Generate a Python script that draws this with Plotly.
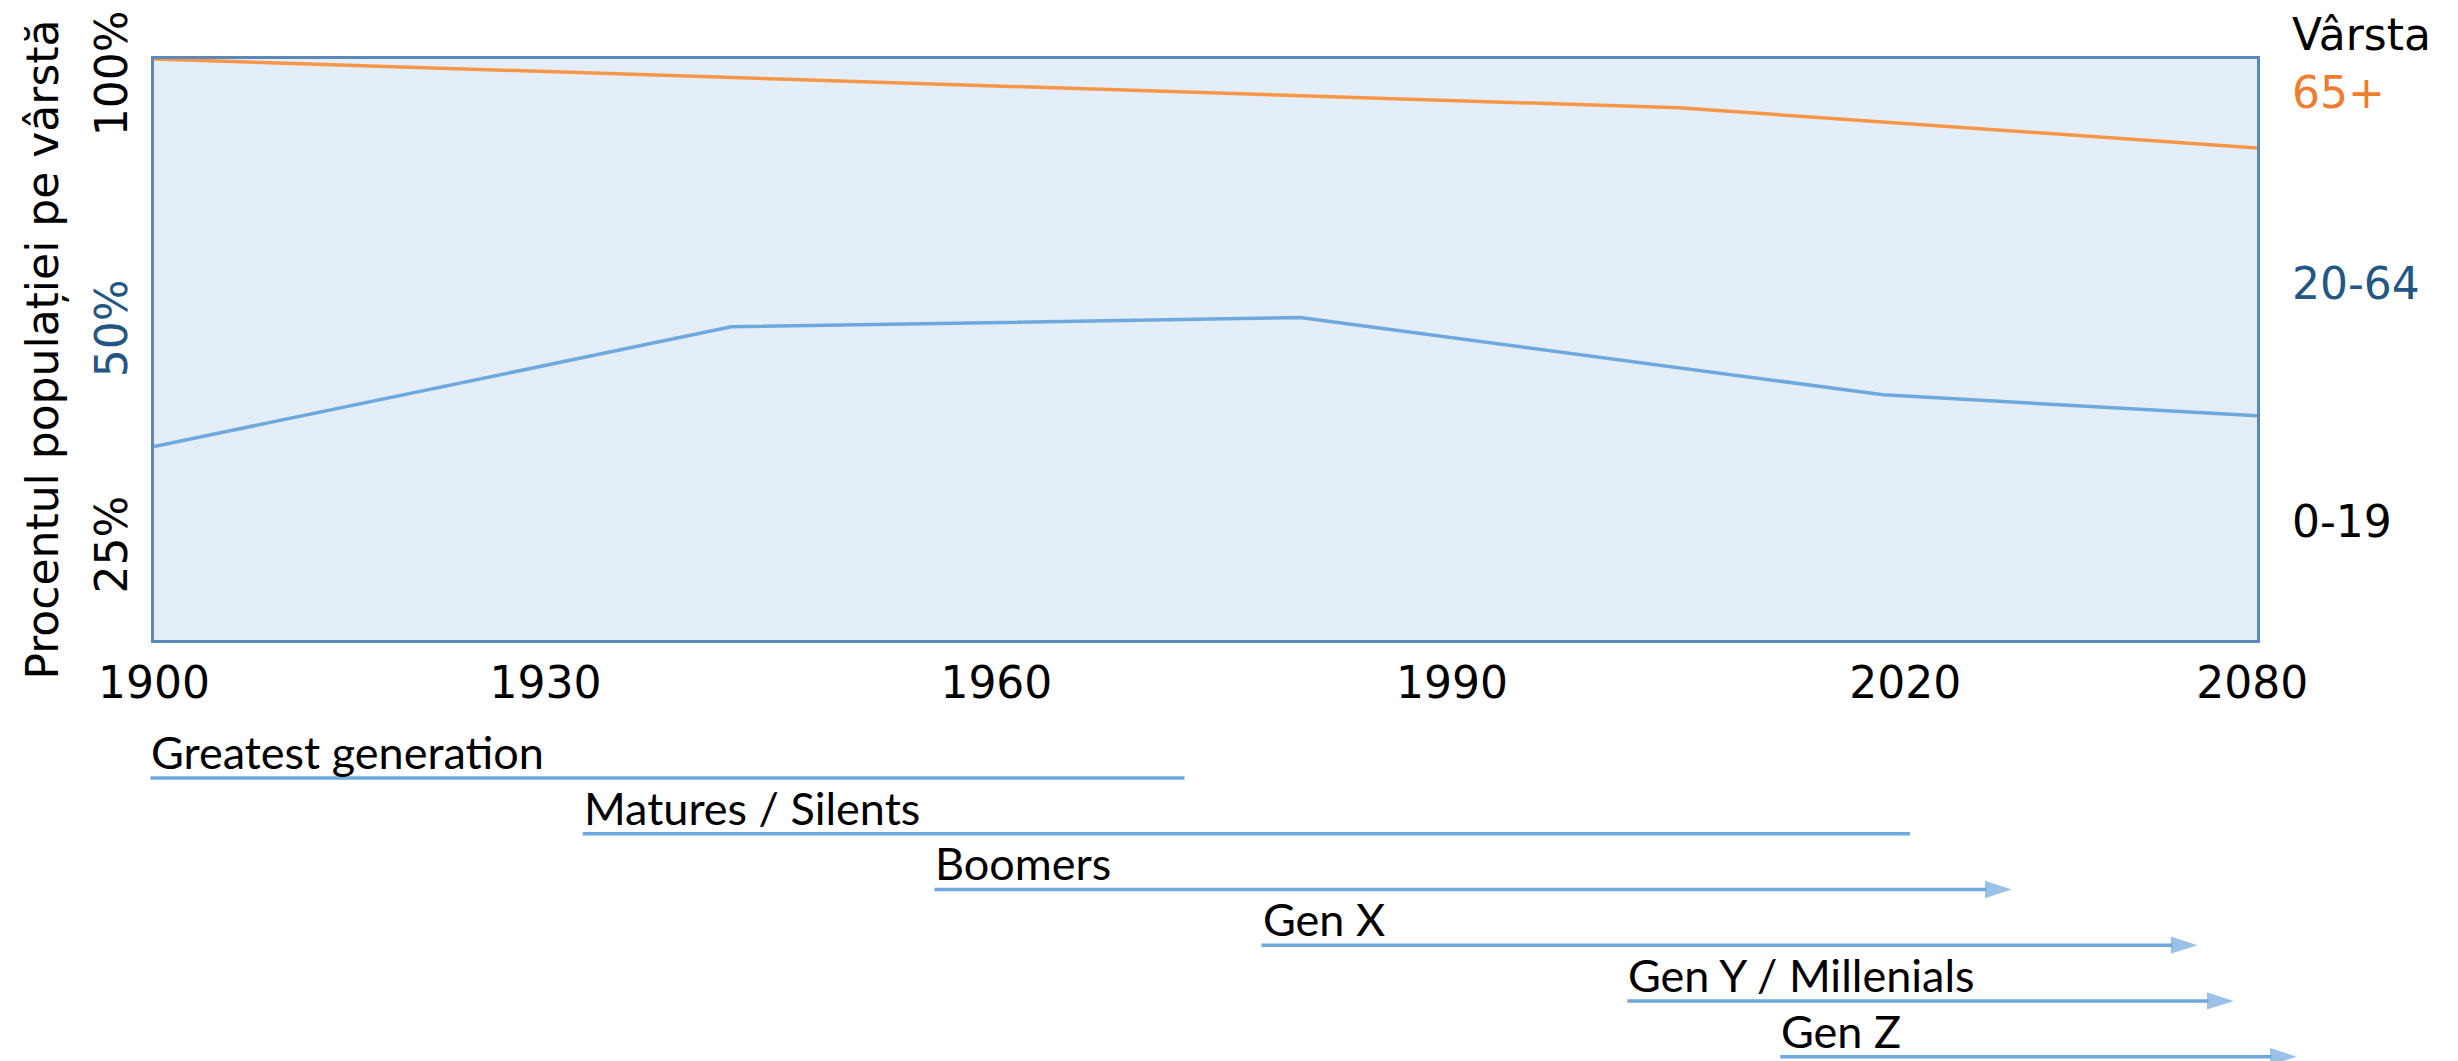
import plotly.graph_objects as go

# ---------------- data ----------------
years_65 = [1900, 2030.5, 2080]                      # upper boundary of the 20-64 band (start of 65+)
boundary_65 = [100, 91.6, 84.7]

years_0_19 = [1900, 1949.4, 1998.1, 2048.0, 2080]   # upper boundary of the 0-19 band
boundary_0_19 = [33.3, 53.9, 55.5, 42.2, 38.6]

x_tick_labels = ["1900", "1930", "1960", "1990", "2020", "2080"]
x_tick_vals = [1900, 1933.5, 1972.1, 2011.1, 2049.9, 2079.6]

y_tick_labels = ["25%", "50%", "100%"]
y_tick_vals = [15.3, 52.5, 96.4]

age_labels = ["Vârsta", "65+", "20-64", "0-19"]

generations = ["Greatest generation", "Matures / Silents", "Boomers",
               "Gen X", "Gen Y / Millenials", "Gen Z"]
gen_start = [1899.7, 1936.7, 1966.8, 1994.8, 2026.1, 2039.2]
gen_end = [1988.2, 2050.3, 2059.0, 2074.9, 2078.0, 2083.4]
gen_arrow = [False, False, True, True, True, True]

# ---------------- styles ----------------
W, H = 2458, 1061
OFF = 8            # page body margin of the browser
ML, MR = 2, 10
ORANGE = "#F79646"
LIGHTBLUE = "#6FA8DC"
DARKBLUE = "#245684"
FRAME = "#5B89B8"
FILL = "#E4EEF8"
TICKFONT = "DejaVu Sans"
GENFONT = "Lato"

PW = W - ML - MR


def px_x(p):
    return (p - OFF - ML) / PW


def px_y(p):
    return (H - (p - OFF)) / H


# main plot frame in screen pixels
FL, FR, FT, FB = 154, 2257, 59, 640
X0, X1 = 1900, 2080
yr_per_px = (X1 - X0) / (FR - FL)

# timeline rows (screen pixels)
ROW0, ROWSTEP = 778, 55.74
y2_dom_top = 0.30


def row_of(p):
    return (p - ROW0) / ROWSTEP


fig = go.Figure()

# frame fill of the main plot only
fig.add_shape(type="rect", xref="x domain", yref="y domain", x0=0, x1=1, y0=0, y1=1,
              fillcolor=FILL, line=dict(width=0), layer="below")

fig.add_trace(go.Scatter(x=years_65, y=boundary_65, mode="lines",
                         line=dict(color=ORANGE, width=3.5), showlegend=False,
                         hoverinfo="skip"))
fig.add_trace(go.Scatter(x=years_0_19, y=boundary_0_19, mode="lines",
                         line=dict(color=LIGHTBLUE, width=3.5), showlegend=False,
                         hoverinfo="skip"))

annotations = []
for i, (name, s, e, arr) in enumerate(zip(generations, gen_start, gen_end, gen_arrow)):
    fig.add_trace(go.Scatter(
        x=[s, e], y=[i, i], xaxis="x2", yaxis="y2",
        mode="lines+markers" if arr else "lines",
        line=dict(color=LIGHTBLUE, width=3.5),
        marker=dict(symbol="arrow", size=[0, 28], angleref="previous",
                    color=LIGHTBLUE, line=dict(width=0)),
        cliponaxis=False, showlegend=False, hoverinfo="skip"))
    annotations.append(dict(
        x=s, y=i, xref="x2", yref="y2", text=name, showarrow=False,
        xanchor="left", yanchor="bottom", yshift=-2, borderpad=0,
        font=dict(family=GENFONT, size=45, color="black")))

# right-hand age labels
age_colors = ["black", "#ED7D31", DARKBLUE, "black"]
age_py = [35, 92, 283, 521]
for lab, col, py in zip(age_labels, age_colors, age_py):
    annotations.append(dict(
        x=px_x(2290), y=px_y(py), xref="paper", yref="paper", text=lab,
        showarrow=False, xanchor="left", yanchor="middle",
        font=dict(family=TICKFONT, size=44, color=col)))

y_tick_text = [
    t if t != "50%" else f"<span style='color:{DARKBLUE}'>{t}</span>"
    for t in y_tick_labels
]

x2_left_px = OFF + ML
x2_right_px = OFF + W - MR
y2_bottom_px = OFF + H
y2_top_px = OFF + H - y2_dom_top * H

fig.update_layout(
    width=W, height=H,
    margin=dict(l=ML, r=MR, t=0, b=0, autoexpand=False),
    paper_bgcolor="white",
    plot_bgcolor="rgba(0,0,0,0)",
    showlegend=False,
    annotations=annotations,
    xaxis=dict(
        domain=[px_x(FL), px_x(FR)], range=[X0, X1], automargin=False,
        showgrid=False, zeroline=False,
        showline=True, mirror=True, linecolor=FRAME, linewidth=3,
        tickmode="array", tickvals=x_tick_vals, ticktext=x_tick_labels,
        ticks="", ticklabelstandoff=2, ticklabeloverflow="allow",
        tickfont=dict(family=TICKFONT, size=44, color="black"),
    ),
    yaxis=dict(
        domain=[px_y(FB), px_y(FT)], range=[0, 100], automargin=False,
        showgrid=False, zeroline=False,
        showline=True, mirror=True, linecolor=FRAME, linewidth=3,
        tickmode="array", tickvals=y_tick_vals, ticktext=y_tick_text,
        tickangle=-90, ticks="", ticklabelstandoff=6, ticklabeloverflow="allow",
        tickfont=dict(family=TICKFONT, size=44, color="black"),
        title=dict(text="Procentul populației pe vârstă", standoff=15,
                   font=dict(family=TICKFONT, size=44, color="black")),
    ),
    xaxis2=dict(
        domain=[0, 1], anchor="y2", automargin=False,
        range=[X0 + (x2_left_px - FL) * yr_per_px, X0 + (x2_right_px - FL) * yr_per_px],
        visible=False,
    ),
    yaxis2=dict(
        domain=[0, y2_dom_top], anchor="x2", automargin=False,
        range=[row_of(y2_bottom_px), row_of(y2_top_px)],
        visible=False,
    ),
)

fig.write_html("out.html")
